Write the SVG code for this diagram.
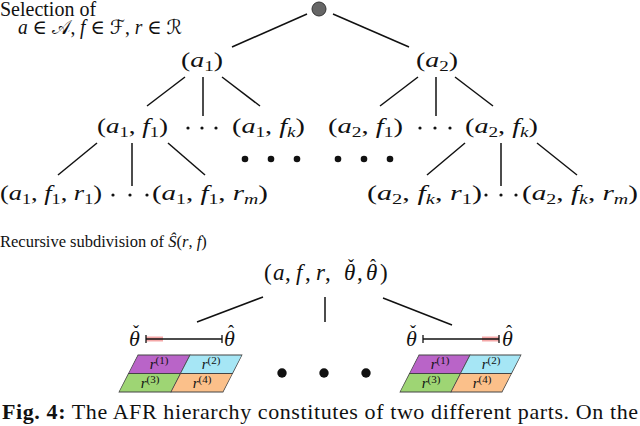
<svg xmlns="http://www.w3.org/2000/svg" width="640" height="426" viewBox="0 0 640 426">
<style>
text{font-family:"Liberation Serif","DejaVu Serif",serif;fill:#111}
.m{font-size:22px}
.i{font-style:italic}
.s{font-size:15px}
.lbl{font-size:20px}
.small{font-size:16.5px}
.cal{font-family:"DejaVu Serif","DejaVu Sans",serif}
.edge{stroke:#111;stroke-width:1.5;fill:none}
.dot{fill:#111}
.cell{stroke:#444;stroke-width:0.8}
.cap{font-size:22px}
.rl{font-size:15px}
.sup{font-size:11px}
.acc{font-size:18px;text-anchor:middle}
</style>
<g id="label-selection">
<text class="lbl" x="0" y="16">Selection of</text>
<text class="lbl" x="18" y="34" textLength="164" lengthAdjust="spacingAndGlyphs"><tspan class="i">a</tspan> ∈ <tspan class="cal">𝒜</tspan>, <tspan class="i">f</tspan> ∈ <tspan class="cal">ℱ</tspan>, <tspan class="i">r</tspan> ∈ <tspan class="cal">ℛ</tspan></text>
</g>
<g id="connectors">
<line class="edge" x1="307" y1="14" x2="232" y2="47"/>
<line class="edge" x1="333" y1="14" x2="409" y2="47"/>
<line class="edge" x1="185" y1="77" x2="147" y2="106"/>
<line class="edge" x1="203" y1="77" x2="203" y2="116"/>
<line class="edge" x1="222" y1="77" x2="260" y2="106"/>
<line class="edge" x1="418" y1="77" x2="380" y2="106"/>
<line class="edge" x1="436" y1="77" x2="436" y2="116"/>
<line class="edge" x1="455" y1="77" x2="493" y2="106"/>
<line class="edge" x1="97" y1="143" x2="58" y2="175"/>
<line class="edge" x1="132" y1="143" x2="132" y2="186"/>
<line class="edge" x1="168" y1="143" x2="205" y2="175"/>
<line class="edge" x1="465" y1="143" x2="427" y2="175"/>
<line class="edge" x1="501" y1="143" x2="501" y2="186"/>
<line class="edge" x1="537" y1="143" x2="577" y2="175"/>
<line class="edge" x1="263" y1="297" x2="197" y2="322"/>
<line class="edge" x1="325" y1="297" x2="325" y2="322"/>
<line class="edge" x1="383" y1="298" x2="452" y2="325"/>
</g>
<g id="root"><circle cx="319" cy="9" r="7" fill="#666" stroke="#333" stroke-width="1"/></g>
<g id="n-a1"><text class="m" x="181" y="67" textLength="42" lengthAdjust="spacingAndGlyphs">(<tspan class="i">a</tspan><tspan class="s" dy="4">1</tspan><tspan dy="-4">)</tspan></text></g>
<g id="n-a2"><text class="m" x="416" y="67" textLength="42" lengthAdjust="spacingAndGlyphs">(<tspan class="i">a</tspan><tspan class="s" dy="4">2</tspan><tspan dy="-4">)</tspan></text></g>
<g id="n-a1f1"><text class="m" x="97" y="133" textLength="71" lengthAdjust="spacingAndGlyphs">(<tspan class="i">a</tspan><tspan class="s" dy="4">1</tspan><tspan dy="-4">, </tspan><tspan class="i">f</tspan><tspan class="s" dy="4">1</tspan><tspan dy="-4">)</tspan></text></g>
<g id="n-a1fk"><text class="m" x="232" y="133" textLength="73" lengthAdjust="spacingAndGlyphs">(<tspan class="i">a</tspan><tspan class="s" dy="4">1</tspan><tspan dy="-4">, </tspan><tspan class="i">f</tspan><tspan class="s i" dy="4">k</tspan><tspan dy="-4">)</tspan></text></g>
<g id="n-a2f1"><text class="m" x="328" y="133" textLength="75" lengthAdjust="spacingAndGlyphs">(<tspan class="i">a</tspan><tspan class="s" dy="4">2</tspan><tspan dy="-4">, </tspan><tspan class="i">f</tspan><tspan class="s" dy="4">1</tspan><tspan dy="-4">)</tspan></text></g>
<g id="n-a2fk"><text class="m" x="465" y="133" textLength="73" lengthAdjust="spacingAndGlyphs">(<tspan class="i">a</tspan><tspan class="s" dy="4">2</tspan><tspan dy="-4">, </tspan><tspan class="i">f</tspan><tspan class="s i" dy="4">k</tspan><tspan dy="-4">)</tspan></text></g>
<g id="row2-cdots">
<circle class="dot" cx="188" cy="128" r="1.6"/><circle class="dot" cx="202" cy="128" r="1.6"/><circle class="dot" cx="216" cy="128" r="1.6"/>
<circle class="dot" cx="420" cy="128" r="1.6"/><circle class="dot" cx="435" cy="128" r="1.6"/><circle class="dot" cx="450" cy="128" r="1.6"/>
</g>
<g id="mid-dots">
<circle class="dot" cx="245" cy="159" r="3.3"/><circle class="dot" cx="271" cy="159" r="3.3"/><circle class="dot" cx="297" cy="159" r="3.3"/>
<circle class="dot" cx="338" cy="159" r="3.3"/><circle class="dot" cx="364" cy="159" r="3.3"/><circle class="dot" cx="390" cy="159" r="3.3"/>
</g>
<g id="n-a1f1r1"><text class="m" x="0" y="200" textLength="102" lengthAdjust="spacingAndGlyphs">(<tspan class="i">a</tspan><tspan class="s" dy="4">1</tspan><tspan dy="-4">, </tspan><tspan class="i">f</tspan><tspan class="s" dy="4">1</tspan><tspan dy="-4">, </tspan><tspan class="i">r</tspan><tspan class="s" dy="4">1</tspan><tspan dy="-4">)</tspan></text></g>
<g id="n-a1f1rm"><text class="m" x="152" y="200" textLength="116" lengthAdjust="spacingAndGlyphs">(<tspan class="i">a</tspan><tspan class="s" dy="4">1</tspan><tspan dy="-4">, </tspan><tspan class="i">f</tspan><tspan class="s" dy="4">1</tspan><tspan dy="-4">, </tspan><tspan class="i">r</tspan><tspan class="s i" dy="4">m</tspan><tspan dy="-4">)</tspan></text></g>
<g id="n-a2fkr1"><text class="m" x="367" y="200" textLength="115" lengthAdjust="spacingAndGlyphs">(<tspan class="i">a</tspan><tspan class="s" dy="4">2</tspan><tspan dy="-4">, </tspan><tspan class="i">f</tspan><tspan class="s i" dy="4">k</tspan><tspan dy="-4">, </tspan><tspan class="i">r</tspan><tspan class="s" dy="4">1</tspan><tspan dy="-4">)</tspan></text></g>
<g id="n-a2fkrm"><text class="m" x="522" y="200" textLength="116" lengthAdjust="spacingAndGlyphs">(<tspan class="i">a</tspan><tspan class="s" dy="4">2</tspan><tspan dy="-4">, </tspan><tspan class="i">f</tspan><tspan class="s i" dy="4">k</tspan><tspan dy="-4">, </tspan><tspan class="i">r</tspan><tspan class="s i" dy="4">m</tspan><tspan dy="-4">)</tspan></text></g>
<g id="row3-cdots">
<circle class="dot" cx="113" cy="195" r="1.6"/><circle class="dot" cx="130" cy="195" r="1.6"/><circle class="dot" cx="147" cy="195" r="1.6"/>
<circle class="dot" cx="486" cy="195" r="1.6"/><circle class="dot" cx="501" cy="195" r="1.6"/><circle class="dot" cx="516" cy="195" r="1.6"/>
</g>
<g id="label-recursive">
<text class="small" x="0" y="247">Recursive subdivision of <tspan class="i">Ŝ</tspan>(<tspan class="i">r</tspan>, <tspan class="i">f</tspan>)</text>
</g>
<g id="n-afr">
<text font-size="23" y="280"><tspan x="264">(</tspan><tspan class="i" x="273">a</tspan><tspan x="285">,</tspan><tspan class="i" x="296">f</tspan><tspan x="305">,</tspan><tspan class="i" x="316">r</tspan><tspan x="325">,</tspan><tspan class="i" x="344">θ</tspan><tspan x="357">,</tspan><tspan class="i" x="366">θ</tspan><tspan x="380">)</tspan></text>
<text class="acc" x="351" y="272">ˇ</text>
<text class="acc" x="373" y="272">ˆ</text>
</g>
<g id="interval-left">
<text x="129" y="346" font-size="22" class="i">θ</text>
<text class="acc" x="136" y="338">ˇ</text>
<text x="224" y="346" font-size="22" class="i">θ</text>
<text class="acc" x="231" y="338">ˆ</text>
<rect x="146" y="336.5" width="17" height="5" fill="#f28b8b" opacity="0.75"/>
<line x1="146" y1="339" x2="222" y2="339" stroke="#111" stroke-width="1.3"/>
<line x1="146" y1="335" x2="146" y2="343" stroke="#111" stroke-width="1.3"/>
<line x1="222" y1="335" x2="222" y2="343" stroke="#111" stroke-width="1.3"/>
</g>
<g id="grid-left">
<g transform="translate(138,355) skewX(-27.18)">
<rect class="cell" x="0" y="0" width="52" height="18.5" fill="#b964c8"/>
<rect class="cell" x="52" y="0" width="52" height="18.5" fill="#a6e6f5"/>
<rect class="cell" x="0" y="18.5" width="52" height="18.5" fill="#9ed574"/>
<rect class="cell" x="52" y="18.5" width="52" height="18.5" fill="#fbc08a"/>
</g>
<text x="159" y="369" text-anchor="middle"><tspan class="i rl">r</tspan><tspan class="sup" dy="-5">(1)</tspan></text>
<text x="211" y="369" text-anchor="middle"><tspan class="i rl">r</tspan><tspan class="sup" dy="-5">(2)</tspan></text>
<text x="150" y="388" text-anchor="middle"><tspan class="i rl">r</tspan><tspan class="sup" dy="-5">(3)</tspan></text>
<text x="202" y="388" text-anchor="middle"><tspan class="i rl">r</tspan><tspan class="sup" dy="-5">(4)</tspan></text>
</g>
<g id="interval-right">
<text x="406" y="346" font-size="22" class="i">θ</text>
<text class="acc" x="413" y="338">ˇ</text>
<text x="502" y="346" font-size="22" class="i">θ</text>
<text class="acc" x="509" y="338">ˆ</text>
<rect x="482" y="336.5" width="17" height="5" fill="#f28b8b" opacity="0.75"/>
<line x1="423" y1="339" x2="499" y2="339" stroke="#111" stroke-width="1.3"/>
<line x1="423" y1="335" x2="423" y2="343" stroke="#111" stroke-width="1.3"/>
<line x1="499" y1="335" x2="499" y2="343" stroke="#111" stroke-width="1.3"/>
</g>
<g id="grid-right">
<g transform="translate(419,355) skewX(-27.18)">
<rect class="cell" x="0" y="0" width="51" height="18.5" fill="#b964c8"/>
<rect class="cell" x="51" y="0" width="51" height="18.5" fill="#a6e6f5"/>
<rect class="cell" x="0" y="18.5" width="51" height="18.5" fill="#9ed574"/>
<rect class="cell" x="51" y="18.5" width="51" height="18.5" fill="#fbc08a"/>
</g>
<text x="440" y="369" text-anchor="middle"><tspan class="i rl">r</tspan><tspan class="sup" dy="-5">(1)</tspan></text>
<text x="491" y="369" text-anchor="middle"><tspan class="i rl">r</tspan><tspan class="sup" dy="-5">(2)</tspan></text>
<text x="431" y="388" text-anchor="middle"><tspan class="i rl">r</tspan><tspan class="sup" dy="-5">(3)</tspan></text>
<text x="482" y="388" text-anchor="middle"><tspan class="i rl">r</tspan><tspan class="sup" dy="-5">(4)</tspan></text>
</g>
<g id="bottom-dots">
<circle class="dot" cx="282" cy="373" r="4.7"/><circle class="dot" cx="324" cy="373" r="4.7"/><circle class="dot" cx="366" cy="373" r="4.7"/>
</g>
<g id="caption">
<text class="cap" x="2" y="419" textLength="636"><tspan font-weight="bold">Fig. 4:</tspan> The AFR hierarchy constitutes of two different parts. On the</text>
</g>
</svg>
